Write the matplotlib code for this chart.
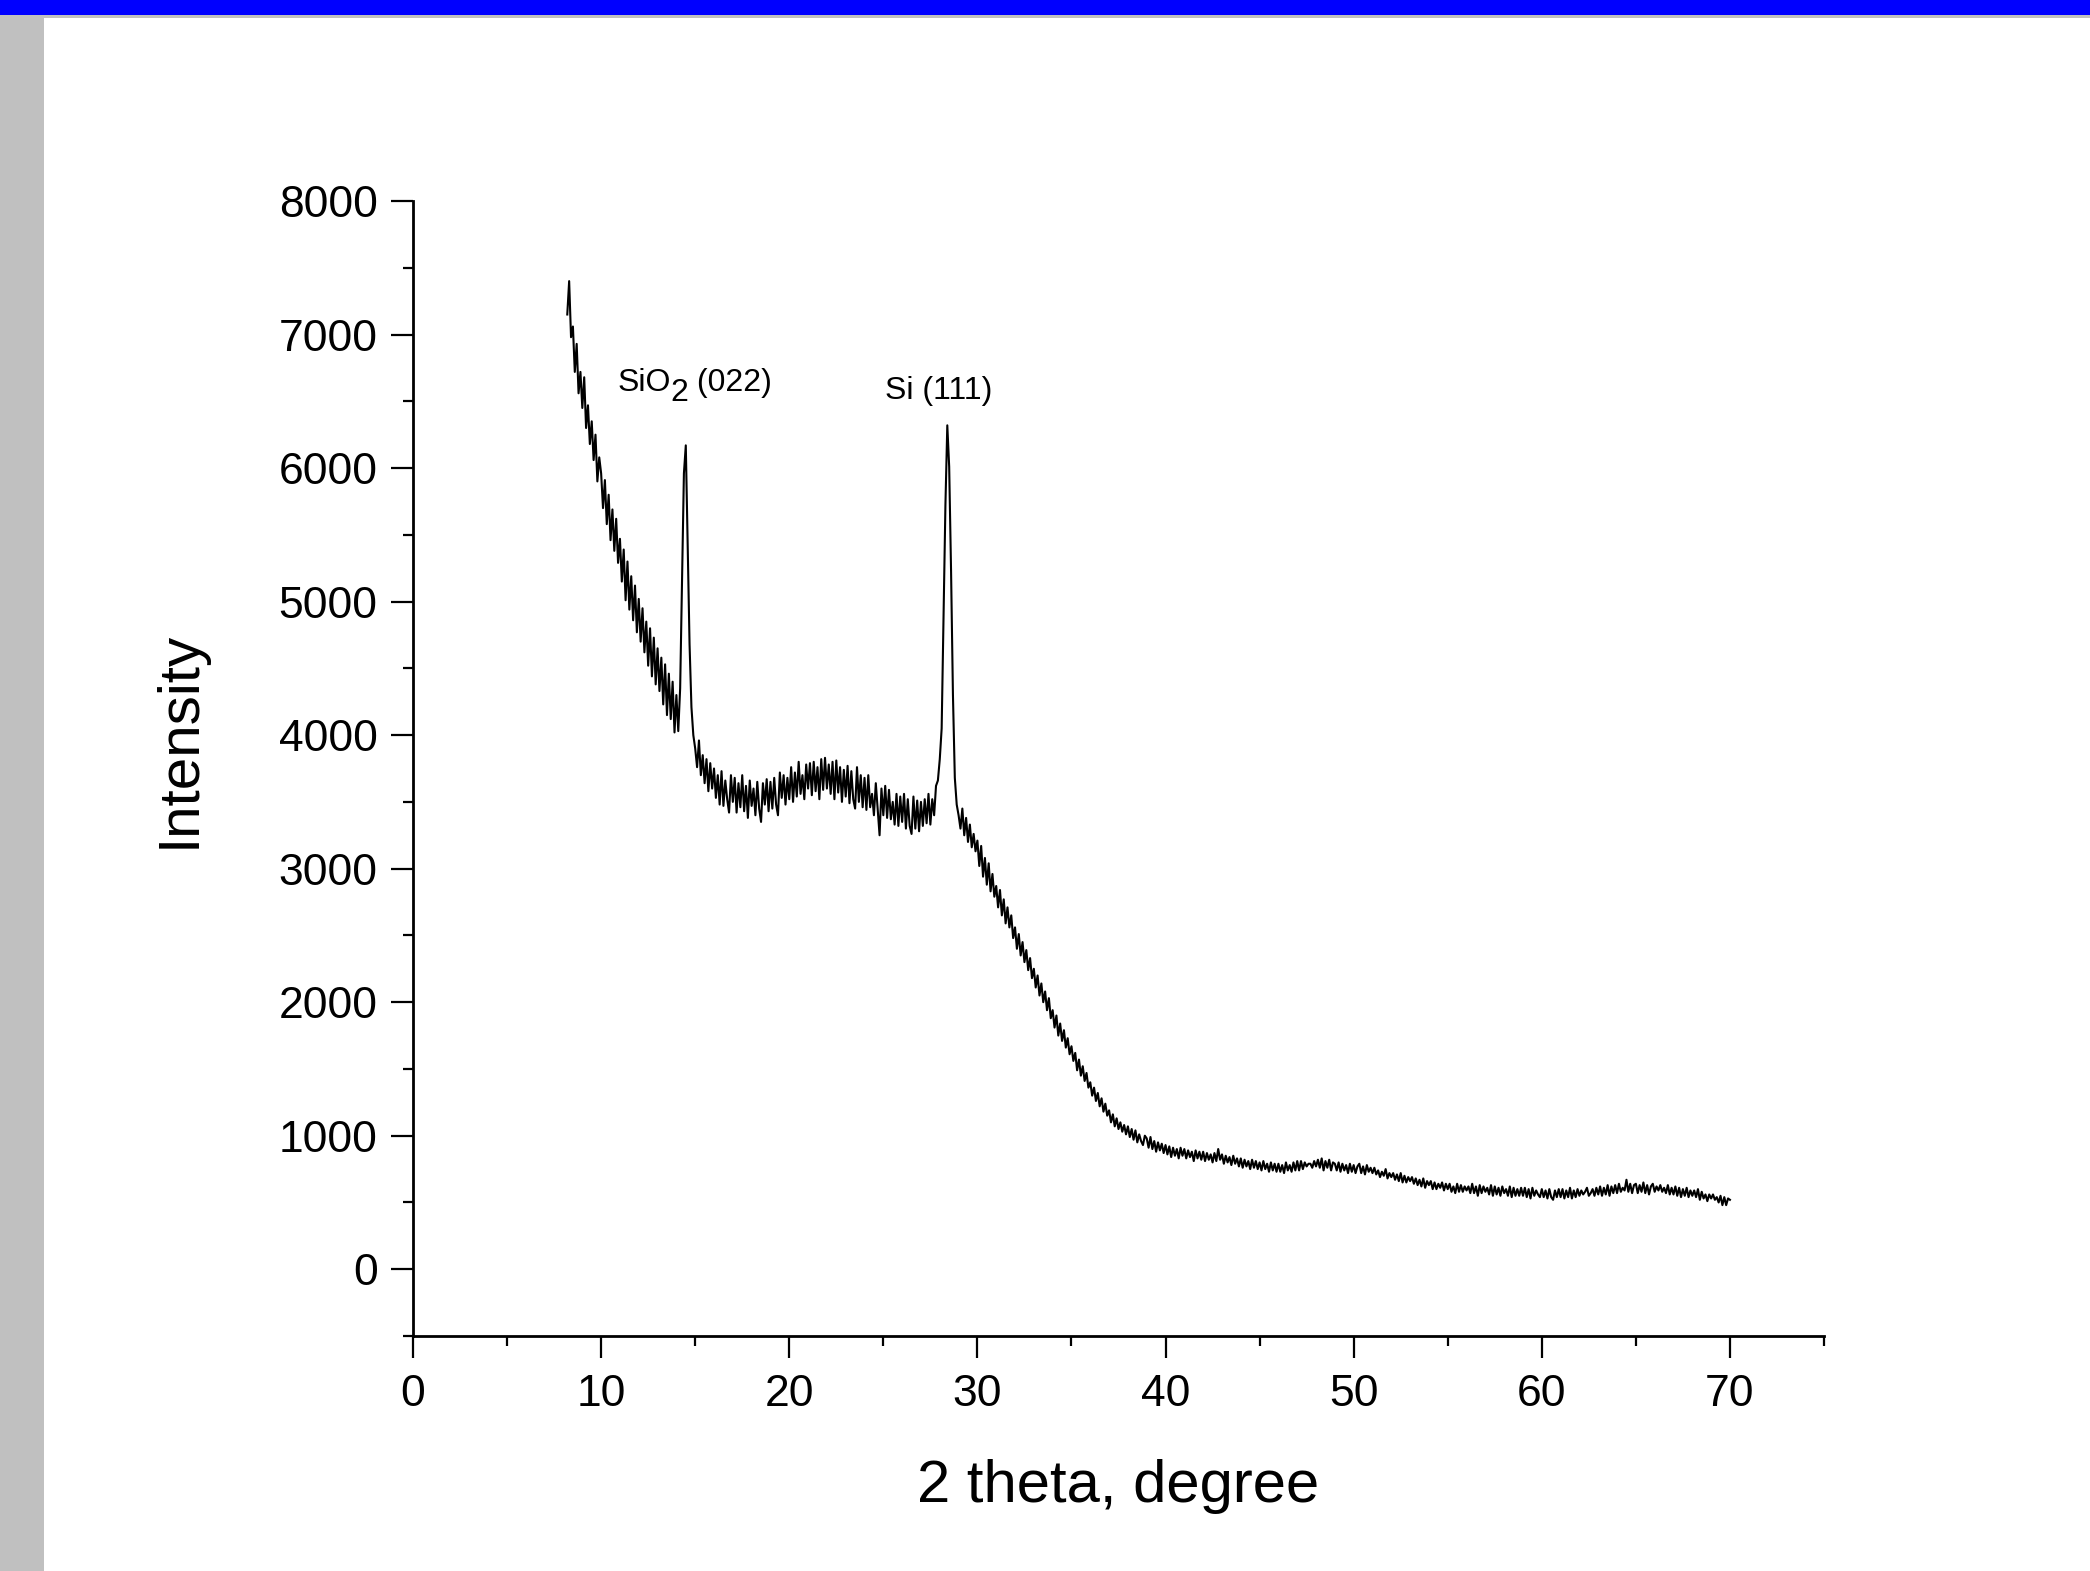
import numpy as np
import matplotlib
matplotlib.use("Agg")
import matplotlib.pyplot as plt
from matplotlib.patches import Rectangle
from matplotlib.ticker import MultipleLocator

plt.rcParams["font.family"] = ["Liberation Sans", "DejaVu Sans"]

# XRD scan, 0.1 degree step starting at 8.2 degrees
two_theta_start = 8.2
two_theta_step = 0.1
intensity = [
    7150, 7400, 6980, 7060, 6720, 6930, 6560, 6720,                      # 8.2-8.9
    6450, 6680, 6300, 6470, 6180, 6350, 6060, 6250, 5900, 6080,          # 9
    5960, 5700, 5910, 5580, 5800, 5460, 5690, 5380, 5620, 5290,          # 10
    5470, 5150, 5390, 5010, 5300, 4940, 5190, 4860, 5120, 4770,          # 11
    5020, 4700, 4950, 4620, 4850, 4520, 4800, 4440, 4730, 4380,          # 12
    4650, 4330, 4580, 4230, 4530, 4150, 4460, 4120, 4400, 4020,          # 13
    4300, 4030, 4350, 5150, 5960, 6170, 5420, 4680, 4210, 4000,          # 14
    3900, 3760, 3960, 3700, 3850, 3640, 3820, 3580, 3790, 3600,          # 15
    3750, 3530, 3700, 3480, 3730, 3470, 3660, 3520, 3420, 3700,          # 16
    3500, 3680, 3420, 3640, 3460, 3700, 3430, 3620, 3380, 3660,          # 17
    3470, 3600, 3400, 3650, 3450, 3350, 3640, 3480, 3670, 3430,          # 18
    3650, 3450, 3680, 3480, 3400, 3720, 3530, 3700, 3480, 3680,          # 19
    3520, 3760, 3500, 3720, 3540, 3800, 3560, 3700, 3520, 3780,          # 20
    3600, 3790, 3550, 3800, 3580, 3760, 3520, 3820, 3590, 3830,          # 21
    3600, 3780, 3560, 3800, 3520, 3810, 3570, 3760, 3500, 3740,          # 22
    3540, 3770, 3490, 3730, 3520, 3450, 3760, 3500, 3700, 3460,          # 23
    3680, 3440, 3700, 3460, 3560, 3400, 3640, 3450, 3250, 3600,          # 24
    3400, 3620, 3380, 3590, 3370, 3500, 3330, 3560, 3320, 3540,          # 25
    3350, 3560, 3300, 3520, 3320, 3260, 3540, 3300, 3510, 3280,          # 26
    3500, 3320, 3520, 3340, 3560, 3330, 3520, 3400, 3620, 3660,          # 27
    3820, 4050, 4900, 5720, 6320, 6010, 5230, 4300, 3680, 3480,          # 28
    3400, 3300, 3450, 3250, 3380, 3200, 3330, 3160, 3260, 3130,          # 29
    3210, 3020, 3170, 2940, 3080, 2880, 3040, 2830, 2960, 2790,          # 30
    2870, 2710, 2840, 2650, 2770, 2590, 2710, 2560, 2650, 2480,          # 31
    2560, 2400, 2510, 2350, 2450, 2300, 2390, 2240, 2330, 2180,          # 32
    2250, 2110, 2200, 2050, 2140, 2000, 2080, 1940, 2030, 1880,          # 33
    1940, 1810, 1900, 1750, 1840, 1710, 1790, 1660, 1730, 1610,          # 34
    1670, 1560, 1620, 1490, 1570, 1450, 1520, 1410, 1470, 1360,          # 35
    1400, 1300, 1360, 1260, 1320, 1220, 1280, 1180, 1240, 1150,          # 36
    1190, 1100, 1160, 1070, 1130, 1050, 1100, 1030, 1080, 1010,          # 37
    1070, 990, 1050, 970, 1040, 950, 1010, 960, 930, 1000,               # 38
    980, 910, 990, 900, 960, 880, 950, 890, 940, 870,                    # 39
    930, 860, 920, 840, 910, 850, 900, 830, 910, 850,                    # 40
    900, 830, 890, 840, 880, 810, 890, 830, 880, 820,                    # 41
    880, 810, 870, 820, 860, 800, 870, 810, 900, 820,                    # 42
    860, 790, 850, 800, 840, 780, 850, 790, 830, 770,                    # 43
    830, 760, 820, 770, 810, 750, 820, 760, 810, 750,                    # 44
    800, 740, 810, 750, 790, 730, 800, 740, 790, 730,                    # 45
    790, 730, 780, 720, 800, 740, 780, 730, 800, 740,                    # 46
    810, 740, 810, 750, 800, 770, 790, 790, 760, 810,                    # 47
    770, 820, 760, 830, 740, 810, 760, 820, 740, 800,                    # 48
    790, 740, 800, 730, 790, 740, 780, 720, 790, 730,                    # 49
    780, 720, 770, 790, 720, 770, 710, 780, 730, 760,                    # 50
    720, 760, 710, 740, 690, 730, 700, 750, 680, 720,                    # 51
    690, 720, 670, 710, 660, 720, 650, 700, 650, 690,                    # 52
    660, 690, 640, 680, 630, 670, 620, 680, 610, 660,                    # 53
    630, 660, 600, 650, 600, 640, 610, 650, 590, 640,                    # 54
    600, 640, 580, 620, 570, 640, 580, 630, 580, 620,                    # 55
    590, 620, 570, 640, 570, 620, 550, 630, 570, 620,                    # 56
    580, 610, 560, 630, 550, 620, 560, 610, 550, 620,                    # 57
    570, 600, 550, 620, 540, 610, 550, 600, 550, 610,                    # 58
    550, 610, 540, 600, 530, 610, 550, 590, 560, 540,                    # 59
    600, 540, 590, 530, 600, 540, 520, 590, 540, 600,                    # 60
    540, 600, 530, 590, 540, 610, 530, 590, 540, 600,                    # 61
    550, 590, 560, 580, 610, 550, 570, 600, 550, 610,                    # 62
    560, 620, 550, 610, 560, 630, 550, 620, 570, 630,                    # 63
    570, 640, 580, 610, 590, 670, 580, 640, 570, 630,                    # 64
    640, 570, 630, 580, 650, 570, 630, 560, 620, 640,                    # 65
    580, 620, 590, 630, 580, 610, 570, 630, 560, 610,                    # 66
    560, 620, 550, 610, 540, 600, 550, 610, 540, 590,                    # 67
    550, 590, 540, 600, 520, 580, 530, 560, 510, 560,                    # 68
    530, 560, 520, 540, 500, 550, 480, 540, 480, 530,                    # 69
    520,                                                                 # 70
]

two_theta = two_theta_start + two_theta_step * np.arange(len(intensity))

fig = plt.figure(figsize=(20.9, 15.71), dpi=100)

# window frame decorations
fig.patches.append(Rectangle((0, 1 - 15 / 1571), 1, 15 / 1571, transform=fig.transFigure,
                             facecolor="#0000ff", edgecolor="none", zorder=-1))
fig.patches.append(Rectangle((0, 1 - 18 / 1571), 1, 3 / 1571, transform=fig.transFigure,
                             facecolor="#c0c0c0", edgecolor="none", zorder=-1))
fig.patches.append(Rectangle((0, 0), 44 / 2090, 1 - 18 / 1571, transform=fig.transFigure,
                             facecolor="#c0c0c0", edgecolor="none", zorder=-1))

ax = fig.add_axes([413 / 2090, 1 - 1336 / 1571, 1411 / 2090, 1135 / 1571])
ax.plot(two_theta, intensity, color="black", lw=1.5)

ax.set_xlim(0, 75)
ax.set_ylim(-500, 8000)
ax.set_xticks([0, 10, 20, 30, 40, 50, 60, 70])
ax.set_yticks(range(0, 8001, 1000))
ax.xaxis.set_minor_locator(MultipleLocator(5))
ax.yaxis.set_minor_locator(MultipleLocator(500))

for side in ["top", "right"]:
    ax.spines[side].set_visible(False)
for side in ["left", "bottom"]:
    ax.spines[side].set_linewidth(2.0)

ax.tick_params(which="major", direction="out", length=15.5, width=1.6, labelsize=32)
ax.tick_params(which="minor", direction="out", length=7.5, width=1.6)
ax.tick_params(axis="x", which="major", pad=12)
ax.tick_params(axis="y", which="major", pad=10)

ax.set_xlabel("2 theta, degree", fontsize=43)
ax.xaxis.set_label_coords(0.5, -0.108)
ax.set_ylabel("Intensity", fontsize=42)
ax.yaxis.set_label_coords(-0.146, 0.526)

# peak labels, SiO2 written with a full size lowered "2" like the original
t1 = ax.text(10.85, 6640, "SiO", fontsize=23, ha="left", va="center")
t2 = ax.annotate("2", xy=(1.0, -0.35), xycoords=t1, fontsize=23, ha="left", va="bottom")
ax.annotate(" (022)", xy=(1.0, 0.35), xycoords=t2, fontsize=23, ha="left", va="bottom")
ax.text(27.95, 6580, "Si (111)", fontsize=23, ha="center", va="center")

fig.savefig("out.png", dpi=100)
